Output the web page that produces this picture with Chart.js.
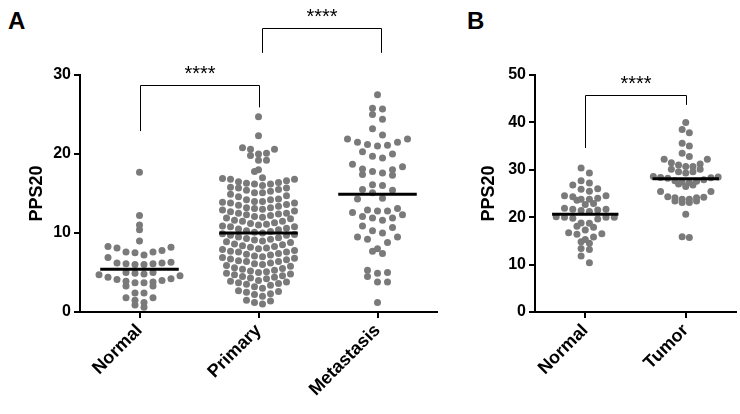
<!DOCTYPE html>
<html>
<head>
<meta charset="utf-8">
<script src="https://cdn.jsdelivr.net/npm/chart.js@4.4.0/dist/chart.umd.min.js"></script>
<style>
  html, body { margin: 0; padding: 0; background: #fff; }
  body { width: 740px; height: 414px; position: relative; overflow: hidden; font-family: "Liberation Sans", Arial, sans-serif; }
  .wrap { position: absolute; top: 0; }
  .panel-label { position: absolute; font-weight: bold; font-size: 24px; line-height: 24px; color: #000; }
</style>
</head>
<body>
<div class="panel-label" style="left:8px; top:9px;">A</div>
<div class="panel-label" style="left:467px; top:9px;">B</div>
<div class="wrap" style="left:0px;"><canvas id="chartA" width="450" height="414"></canvas></div>
<div class="wrap" style="left:450px;"><canvas id="chartB" width="290" height="414"></canvas></div>
<script>
// ---------------- DATA ----------------
const categoriesA = ['Normal', 'Primary', 'Metastasis'];
const categoriesB = ['Normal', 'Tumor'];
const yTicksA = [0, 10, 20, 30];
const yTicksB = [0, 10, 20, 30, 40, 50];

const normalA = [17.7, 12.2, 11.0, 10.4, 9.0,
  8.3, 8.2, 8.1,
  7.8, 7.6, 7.6, 7.5, 7.2,
  6.9, 6.3, 6.2, 6.1, 6.0, 6.0, 6.1, 6.2,
  5.0, 5.0, 4.9, 4.8,
  4.7, 4.6, 4.4, 4.2, 4.1, 4.0, 3.9, 3.8,
  3.7, 3.7, 3.3, 3.3, 2.4, 2.4,
  1.8, 1.8, 1.5, 1.2, 0.9, 0.6];

const primaryA = [24.7, 22.3,
  20.8, 20.6, 20.6, 20.1, 20.0,
  19.8, 19.2, 19.2,
  18.0, 17.8, 17.0,
  16.9, 16.8, 16.8, 16.6, 16.5, 16.4, 16.3, 16.2, 16.2, 16.0,
  15.8, 15.7, 15.7, 15.5, 15.4, 15.3, 15.1, 15.1,
  14.9, 14.7, 14.6, 14.3, 14.2, 14.2, 14.0, 14.0,
  13.9, 13.8, 13.8, 13.6, 13.5, 13.4, 13.2, 13.2, 13.1, 13.0,
  12.9, 12.8, 12.7, 12.5, 12.5, 12.4, 12.3, 12.2, 12.1, 12.0,
  11.9, 11.8, 11.6, 11.5, 11.5, 11.3, 11.2, 11.1, 11.0,
  10.9, 10.8, 10.8, 10.6, 10.5, 10.4, 10.3, 10.2, 10.1, 10.0,
  9.9, 9.8, 9.7, 9.7, 9.5, 9.4, 9.3, 9.2, 9.1, 9.0,
  8.9, 8.8, 8.6, 8.5, 8.4, 8.3, 8.2, 8.1, 8.0,
  7.9, 7.8, 7.7, 7.6, 7.6, 7.4, 7.3, 7.2, 7.1, 7.0,
  6.9, 6.8, 6.7, 6.6, 6.5, 6.4, 6.4, 6.2, 6.1, 6.0,
  5.9, 5.8, 5.6, 5.5, 5.4, 5.3, 5.2, 5.1, 5.0,
  4.9, 4.8, 4.7, 4.6, 4.5, 4.4, 4.3, 4.2, 4.0,
  3.9, 3.8, 3.7, 3.6, 3.5, 3.4, 3.2, 3.0,
  2.7, 2.6, 2.5, 2.3, 2.2, 2.0,
  1.5, 1.4, 1.2, 1.0];

const metastasisA = [27.5, 25.8, 25.7, 25.0, 24.4, 23.2, 22.4, 21.9, 21.5, 21.1, 21.0, 21.2, 21.5,
  21.9, 20.3, 20.0, 19.5, 19.7, 18.0, 17.6, 17.3, 18.4, 17.4, 17.8, 18.1, 18.7, 16.0, 16.1,
  15.5, 15.4, 15.1, 14.4, 14.3, 12.8, 12.6, 13.1, 12.9, 12.8, 11.9, 12.1, 11.6, 12.3, 11.9,
  10.3, 10.9, 10.7, 10.0, 9.5, 9.5, 9.2, 8.8, 7.7, 7.4, 8.0, 4.9, 5.3, 5.0, 3.8, 3.8, 4.5, 1.2];

const normalB = [30.4, 29.3, 27.7, 27.2, 26.8, 26.0, 25.5, 25.9, 24.5, 24.3, 23.8, 23.6, 22.9,
  23.8, 24.0, 24.5, 22.7, 21.7, 21.5, 21.4, 21.2, 21.7, 21.9, 20.1, 20.0, 19.8, 18.7, 18.1,
  18.8, 19.6, 20.0, 20.0, 17.3, 16.5, 15.8, 16.4, 16.7, 17.9, 15.3, 14.8, 13.4, 13.2, 14.5,
  11.8, 10.4];

const tumorB = [40.0, 38.5, 37.8, 35.0, 35.6, 33.5, 32.8, 32.2, 31.5, 32.2, 31.2, 30.7, 30.1,
  29.6, 29.3, 29.6, 30.1, 30.7, 31.0, 28.5, 28.3, 27.9, 27.6, 27.4, 27.7, 28.2, 28.4, 28.6,
  27.3, 27.0, 26.8, 26.5, 25.4, 25.4, 24.2, 24.1, 23.8, 23.4, 23.1, 23.1, 23.4, 23.8, 24.1,
  24.3, 20.6, 15.7, 15.9];

const meansA = [5.4, 10.0, 14.9];
const meansB = [20.6, 28.1];

// significance annotations (category indices and y-values in data units)
const bracketsA = [
  { from: 0, to: 1, top: 28.7, legFrom: 22.9, legTo: 25.9, label: '****' },
  { from: 1.03, to: 2.03, top: 35.9, legFrom: 32.8, legTo: 32.8, label: '****' }
];
const bracketsB = [
  { from: 0, to: 1, top: 45.8, legFrom: 34.6, legTo: 43.7, label: '****' }
];

// ---------------- STYLE ----------------
const FONT = '"Liberation Sans", Arial, Helvetica, sans-serif';
const DOT_COLOR = '#7a7a7a';
const DOT_R = 3.5;
const MEAN_HALF = 0.33;
// column-scatter layout per column: row height (data units) and dot spacing (px)
const spreadA = [{ bin: 1.2, step: 9.0 }, { bin: 1.0, step: 8.0 }, { bin: 1.6, step: 10.0 }];
const spreadB = [{ bin: 1.7, step: 8.3 }, { bin: 1.7, step: 7.2 }];

// Prism-like column scatter: values binned into rows, spread sideways from the centre
function swarm(values, center, spread, pxPerX) {
  const bins = new Map();
  values.forEach((v, i) => {
    const k = Math.floor(v / spread.bin + 1e-9);
    if (!bins.has(k)) bins.set(k, []);
    bins.get(k).push(i);
  });
  const out = new Array(values.length);
  bins.forEach(idx => {
    idx.sort((a, b) => values[a] - values[b]);
    const n = idx.length;
    idx.forEach((i, j) => {
      let slot;
      if (n % 2) slot = j === 0 ? 0 : (j % 2 ? (j + 1) / 2 : -j / 2);
      else slot = j % 2 ? -(Math.floor(j / 2) + 0.5) : (j / 2 + 0.5);
      out[i] = { x: center + slot * spread.step / pxPerX, y: values[i] };
    });
  });
  return out;
}

const bracketPlugin = {
  id: 'brackets',
  afterDraw(chart, args, opts) {
    const { ctx, scales: { x, y } } = chart;
    ctx.save();
    ctx.strokeStyle = '#000';
    ctx.lineWidth = 1;
    ctx.fillStyle = '#000';
    ctx.font = '20px ' + FONT;
    ctx.textAlign = 'center';
    ctx.textBaseline = 'alphabetic';
    (opts.items || []).forEach(b => {
      const x1 = Math.round(x.getPixelForValue(b.from)) + 0.5;
      const x2 = Math.round(x.getPixelForValue(b.to)) + 0.5;
      const yt = Math.round(y.getPixelForValue(b.top)) + 0.5;
      ctx.beginPath();
      ctx.moveTo(x1, y.getPixelForValue(b.legFrom));
      ctx.lineTo(x1, yt);
      ctx.lineTo(x2, yt);
      ctx.lineTo(x2, y.getPixelForValue(b.legTo));
      ctx.stroke();
      ctx.fillText(b.label, (x1 + x2) / 2, yt - 17 + 11.6);
    });
    ctx.restore();
  }
};

function makeChart(id, cats, groups, means, spreads, yMax, yTicks, brackets, pad, yWidth, titlePad) {
  const datasets = [];
  means.forEach((m, i) => {
    datasets.push({
      type: 'line', data: [{ x: i - MEAN_HALF, y: m }, { x: i + MEAN_HALF, y: m }],
      borderColor: '#000', borderWidth: 3, pointRadius: 0, order: 0, borderCapStyle: 'butt'
    });
  });
  groups.forEach((vals, i) => {
    datasets.push({
      type: 'scatter', data: vals.map(v => ({ x: i, y: v })),
      backgroundColor: DOT_COLOR, borderWidth: 0, pointRadius: DOT_R, order: 1
    });
  });
  const chart = new Chart(document.getElementById(id), {
    type: 'scatter',
    data: { datasets },
    plugins: [bracketPlugin],
    options: {
      responsive: false, animation: false, devicePixelRatio: 1,
      layout: { padding: pad },
      plugins: { legend: { display: false }, tooltip: { enabled: false }, brackets: { items: brackets } },
      scales: {
        x: {
          type: 'linear', min: -0.5, max: cats.length - 0.5,
          afterBuildTicks: s => { s.ticks = cats.map((_, i) => ({ value: i })); },
          afterFit: s => { s.height = 102; },
          ticks: {
            callback: v => cats[v], autoSkip: false, minRotation: 45, maxRotation: 45,
            color: '#000', font: { family: FONT, size: 18, weight: 'bold' }, padding: 2
          },
          grid: { display: true, drawOnChartArea: false, drawTicks: true, tickLength: 6, color: '#000', lineWidth: 2 },
          border: { display: true, color: '#000', width: 2 }
        },
        y: {
          type: 'linear', min: 0, max: yMax,
          afterBuildTicks: s => { s.ticks = yTicks.map(v => ({ value: v })); },
          afterFit: s => { s.width = yWidth; },
          ticks: { color: '#000', font: { family: FONT, size: 16, weight: 'bold' }, padding: 3 },
          title: { display: true, text: 'PPS20', color: '#000', font: { family: FONT, size: 18, weight: 'bold' }, padding: { top: titlePad, bottom: 0 } },
          grid: { display: true, drawOnChartArea: false, drawTicks: true, tickLength: 6, color: '#000', lineWidth: 2 },
          border: { display: true, color: '#000', width: 2 }
        }
      }
    }
  });
  const xs = chart.scales.x;
  const pxPerX = xs.getPixelForValue(1) - xs.getPixelForValue(0);
  groups.forEach((vals, i) => {
    chart.data.datasets[means.length + i].data = swarm(vals, i, spreads[i], pxPerX);
  });
  chart.update('none');
  return chart;
}

makeChart('chartA', categoriesA, [normalA, primaryA, metastasisA], meansA, spreadA, 30, yTicksA, bracketsA,
  { left: 0, right: 13, top: 75, bottom: 0 }, 80, 26);
makeChart('chartB', categoriesB, [normalB, tumorB], meansB, spreadB, 50, yTicksB, bracketsB,
  { left: 0, right: 4, top: 75, bottom: 0 }, 85, 28);
</script>
</body>
</html>
